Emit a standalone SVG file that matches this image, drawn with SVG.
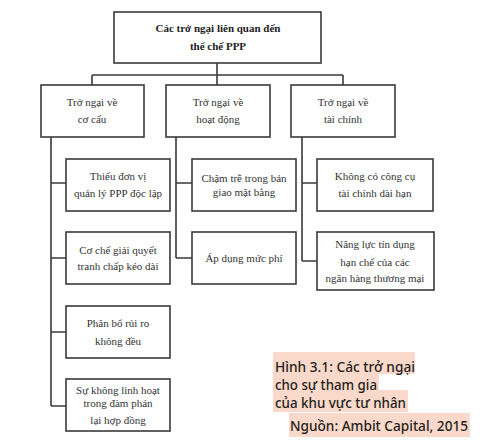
<svg xmlns="http://www.w3.org/2000/svg" width="480" height="444" viewBox="0 0 480 444">
<style>
.box{fill:#fff;stroke:#3a3a3a;stroke-width:1.6}
.ln{fill:none;stroke:#3a3a3a;stroke-width:1.6}
.t{font-family:"Liberation Serif","Times New Roman",serif;font-size:11px;fill:#333;text-anchor:middle}
.b{font-weight:bold;fill:#222}
.hl{fill:#fad9ca}
.cap{font-family:"Noto Sans","Open Sans",sans-serif;font-size:14px;font-weight:500;fill:#231f20}
</style>
<rect width="480" height="444" fill="#fff"/>
<g id="connectors">
<path class="ln" d="M217 63V75M92 75H343M92 75V85M217 75V85M343 75V85"/>
<path class="ln" d="M51 137V406M51 183H66M51 258H66M51 332H66M51 406H66"/>
<path class="ln" d="M176 137V258M176 183H192M176 258H192"/>
<path class="ln" d="M302 137V261M302 183H317M302 261H317"/>
</g>
<g id="root"><rect class="box" x="114" y="12" width="207" height="51"/>
<text class="t b" x="218" y="32">Các trở ngại liên quan đến</text>
<text class="t b" x="218" y="50">thể chế PPP</text></g>
<g id="c1"><rect class="box" x="41" y="85" width="103" height="52"/>
<text class="t" x="92" y="106">Trở ngại về</text><text class="t" x="92" y="123">cơ cấu</text></g>
<g id="c2"><rect class="box" x="166" y="85" width="104" height="52"/>
<text class="t" x="218" y="106">Trở ngại về</text><text class="t" x="218" y="123">hoạt động</text></g>
<g id="c3"><rect class="box" x="291" y="85" width="104" height="52"/>
<text class="t" x="343" y="106">Trở ngại về</text><text class="t" x="343" y="123">tài chính</text></g>
<g id="a1"><rect class="box" x="66" y="159" width="104" height="52"/>
<text class="t" x="118" y="180">Thiếu đơn vị</text><text class="t" x="118" y="197">quản lý PPP độc lập</text></g>
<g id="a2"><rect class="box" x="66" y="232" width="104" height="52"/>
<text class="t" x="118" y="254">Cơ chế giải quyết</text><text class="t" x="118" y="270">tranh chấp kéo dài</text></g>
<g id="a3"><rect class="box" x="66" y="306" width="104" height="52"/>
<text class="t" x="118" y="327">Phân bổ rủi ro</text><text class="t" x="118" y="345">không đều</text></g>
<g id="a4"><rect class="box" x="66" y="379" width="104" height="52"/>
<text class="t" x="118" y="394">Sự không linh hoạt</text><text class="t" x="118" y="407">trong đàm phán</text><text class="t" x="118" y="424">lại hợp đồng</text></g>
<g id="b1"><rect class="box" x="192" y="159" width="104" height="52"/>
<text class="t" x="244" y="182">Chậm trễ trong bản</text><text class="t" x="244" y="196">giao mặt bằng</text></g>
<g id="b2"><rect class="box" x="192" y="232" width="104" height="52"/>
<text class="t" x="244" y="262">Áp dụng mức phí</text></g>
<g id="d1"><rect class="box" x="317" y="159" width="116" height="52"/>
<text class="t" x="375" y="180">Không có công cụ</text><text class="t" x="375" y="197">tài chính dài hạn</text></g>
<g id="d2"><rect class="box" x="317" y="232" width="117" height="58"/>
<text class="t" x="375" y="248">Năng lực tín dụng</text><text class="t" x="375" y="266">hạn chế của các</text><text class="t" x="375" y="282">ngân hàng thương mại</text></g>
<g id="caption">
<rect class="hl" x="273" y="352" width="142" height="22"/>
<rect class="hl" x="273" y="374" width="106" height="17"/>
<rect class="hl" x="273" y="390" width="135" height="22"/>
<rect class="hl" x="289" y="413" width="181" height="24"/>
<text class="cap" x="275" y="372" textLength="140" lengthAdjust="spacingAndGlyphs">Hình 3.1: Các trở ngại</text>
<text class="cap" x="275" y="390" textLength="102" lengthAdjust="spacingAndGlyphs">cho sự tham gia</text>
<text class="cap" x="275" y="408" textLength="131" lengthAdjust="spacingAndGlyphs">của khu vực tư nhân</text>
<text class="cap" x="290" y="431" textLength="178" lengthAdjust="spacingAndGlyphs">Nguồn: Ambit Capital, 2015</text>
</g>
</svg>
